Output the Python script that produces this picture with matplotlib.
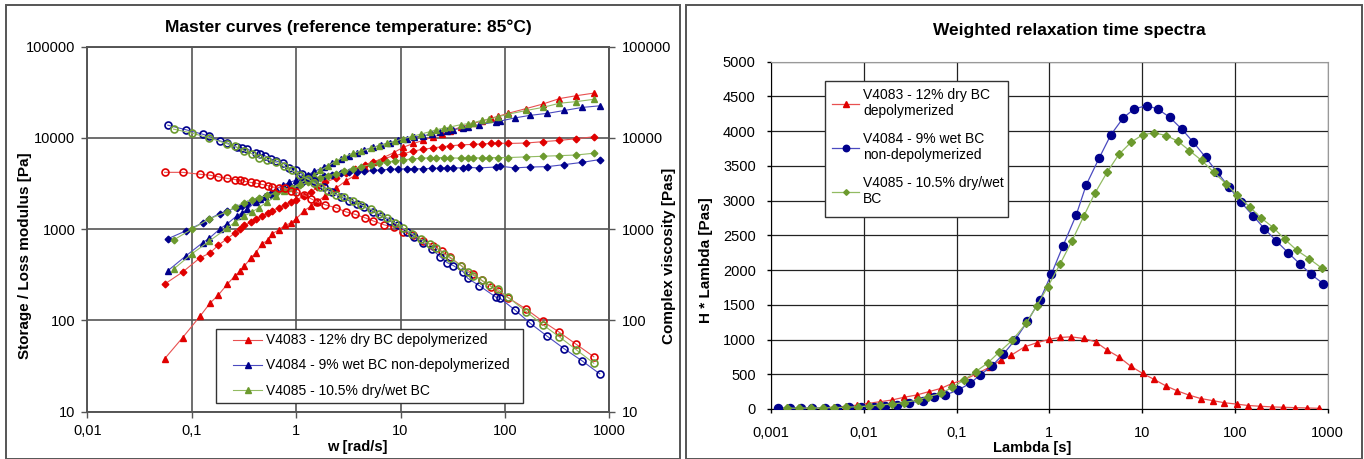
import matplotlib
matplotlib.use('Agg')
import matplotlib.pyplot as plt
from matplotlib.patches import Rectangle
from matplotlib.ticker import NullLocator

plt.rcParams['font.family'] = ['Liberation Sans', 'DejaVu Sans']

# ---------------- master curves (left panel) ----------------
# V4083 - 12% dry BC depolymerized
w_83 = [0.055, 0.082, 0.12, 0.15, 0.18, 0.22, 0.26, 0.29, 0.32, 0.37,
        0.41, 0.47, 0.54, 0.59, 0.68, 0.78, 0.89, 1.0, 1.2, 1.4,
        1.6, 1.9, 2.4, 3.0, 3.7, 4.6, 5.5, 6.9, 8.6, 10.6,
        13.3, 16.5, 20.6, 25, 30, 38, 50, 60, 74, 85,
        107, 160, 230, 333, 480, 710]
gp_83 = [38, 65, 111, 155, 190, 251, 309, 345, 396, 485,
         550, 690, 760, 890, 980, 1100, 1170, 1300, 1600, 1800,
         2000, 2340, 2800, 3400, 3900, 4700, 5400, 6100, 6900, 7900,
         8700, 9400, 10300, 11000, 12000, 13200, 14500, 15300, 16500, 17200,
         18600, 21000, 23500, 27000, 29000, 31000]
gpp_83 = [250, 340, 485, 550, 670, 790, 910, 1000, 1100, 1200,
          1300, 1400, 1500, 1600, 1720, 1850, 2000, 2100, 2300, 2550,
          2900, 3250, 3650, 4100, 4600, 5100, 5500, 5900, 6400, 6700,
          7200, 7500, 7800, 8000, 8200, 8400, 8500, 8600, 8700, 8800,
          8700, 8800, 9100, 9400, 9800, 10300]
eta_83 = [4200, 4200, 4000, 3900, 3750, 3600, 3500, 3450, 3350, 3250,
          3200, 3100, 3000, 2900, 2850, 2800, 2650, 2550, 2350, 2150,
          1980, 1850, 1720, 1550, 1450, 1330, 1230, 1120, 1050, 940,
          860, 750, 660, 570, 490, 400, 320, 275, 235, 210,
          178, 133, 98, 74, 55, 40]

# V4084 - 9% wet BC non-depolymerized
w_84 = [0.059, 0.088, 0.127, 0.148, 0.185, 0.22, 0.27, 0.3, 0.34, 0.41,
        0.45, 0.5, 0.57, 0.64, 0.75, 0.86, 1.0, 1.15, 1.3, 1.5,
        1.85, 2.2, 2.7, 3.2, 3.8, 4.5, 5.5, 6.5, 8, 9.5,
        11.5, 13.5, 16.6, 20, 24, 28, 32, 40, 44, 57,
        82, 90, 125, 175, 255, 370, 550, 810]
gp_84 = [350, 510, 710, 800, 1000, 1150, 1400, 1500, 1650, 2000,
         2150, 2300, 2550, 2750, 3050, 3250, 3450, 3700, 3950, 4300,
         4800, 5300, 5900, 6400, 6900, 7400, 7900, 8400, 8900, 9400,
         9800, 10200, 10600, 11000, 11500, 12000, 12300, 12900, 13100, 14000,
         15000, 15300, 16600, 17700, 18600, 20000, 21600, 22500]
gpp_84 = [785, 960, 1170, 1300, 1480, 1600, 1720, 1800, 1900, 2050,
          2150, 2250, 2400, 2550, 2700, 2850, 3000, 3200, 3400, 3600,
          3850, 3950, 4100, 4200, 4250, 4300, 4400, 4450, 4550, 4550,
          4600, 4600, 4600, 4650, 4650, 4700, 4700, 4700, 4750, 4700,
          4800, 4900, 4700, 4800, 4850, 5100, 5400, 5800]
eta_84 = [13800, 12300, 11000, 10400, 9300, 8800, 7900, 7800, 7600, 6800,
          6600, 6400, 5900, 5600, 5300, 4700, 4400, 4000, 3700, 3400,
          2900, 2550, 2250, 2050, 1900, 1750, 1550, 1400, 1220, 1100,
          930, 820, 700, 600, 500, 430, 400, 340, 290, 240,
          180, 175, 130, 93, 67, 49, 36, 26]

# V4085 - 10.5% dry/wet BC
w_85 = [0.067, 0.1, 0.148, 0.22, 0.26, 0.32, 0.38, 0.44, 0.53, 0.64,
        0.76, 0.91, 1.1, 1.3, 1.5, 1.7, 2.0, 2.4, 2.9, 3.5,
        4.2, 5.2, 6.2, 7.4, 8.8, 10.6, 13, 15.6, 19, 22,
        26, 30, 38, 44, 50, 60, 70, 85, 107, 160,
        230, 333, 480, 710]
gp_85 = [365, 535, 745, 1030, 1200, 1400, 1550, 1720, 2000, 2300,
         2600, 2850, 3200, 3600, 3950, 4400, 4900, 5600, 6200, 6800,
         7200, 7700, 8200, 8700, 9200, 9800, 10400, 11000, 11700, 12300,
         12800, 13200, 14000, 14300, 14700, 15600, 16000, 17000, 18200, 20000,
         21600, 24000, 25000, 26500]
gpp_85 = [760, 1000, 1300, 1560, 1750, 1950, 2100, 2200, 2350, 2500,
          2700, 2850, 3050, 3250, 3450, 3650, 3850, 4000, 4300, 4600,
          4850, 5100, 5300, 5450, 5600, 5750, 5900, 6000, 6050, 6100,
          6100, 6050, 6000, 6050, 6100, 6000, 6100, 6100, 6100, 6200,
          6300, 6400, 6500, 6800]
eta_85 = [12500, 11300, 10000, 8600, 8100, 7200, 6700, 6100, 5800, 5400,
          4900, 4400, 3900, 3550, 3200, 2900, 2650, 2400, 2250, 2050,
          1850, 1650, 1480, 1340, 1170, 1030, 880, 780, 680, 620,
          540, 480, 400, 340, 310, 275, 245, 220, 180, 125,
          90, 66, 48, 34]

# ---------------- relaxation spectra (right panel) ----------------
lam_83 = [0.0012, 0.0016, 0.0021, 0.0028, 0.0036, 0.0048, 0.0064, 0.0084, 0.011, 0.015,
          0.02, 0.027, 0.037, 0.05, 0.068, 0.09, 0.124, 0.168, 0.225, 0.3,
          0.39, 0.54, 0.73, 0.98, 1.3, 1.71, 2.35, 3.15, 4.2, 5.6,
          7.5, 10.1, 13.4, 18.2, 24, 32, 43, 58, 77, 105,
          140, 185, 250, 330, 440, 600, 800]
h_83 = [8, 10, 12, 15, 20, 27, 38, 55, 80, 105,
        129, 168, 201, 249, 297, 369, 427, 513, 599, 704,
        776, 895, 953, 1001, 1030, 1039, 1015, 967, 848, 751,
        618, 513, 427, 330, 260, 200, 150, 120, 90, 70,
        50, 40, 30, 25, 20, 15, 10]

lam_84 = [0.0012, 0.0016, 0.0021, 0.0028, 0.0038, 0.0051, 0.0069, 0.0093, 0.013, 0.017,
          0.023, 0.031, 0.043, 0.057, 0.075, 0.103, 0.14, 0.18, 0.24, 0.32,
          0.43, 0.58, 0.79, 1.05, 1.4, 1.94, 2.5, 3.45, 4.6, 6.25,
          8.2, 11.2, 14.7, 19.8, 26.6, 35.6, 48.2, 64.3, 86.5, 116,
          158, 208, 280, 374, 497, 660, 890]
h_84 = [12, 13, 14, 15, 17, 19, 22, 26, 30, 43,
        57, 90, 115, 170, 200, 270, 370, 490, 620, 790,
        1000, 1260, 1566, 1940, 2346, 2787, 3228, 3616, 3947, 4191,
        4320, 4368, 4320, 4200, 4033, 3841, 3625, 3410, 3194, 2978,
        2777, 2596, 2418, 2251, 2093, 1940, 1806]

lam_85 = [0.0015, 0.002, 0.0027, 0.0036, 0.0048, 0.0064, 0.0086, 0.0115, 0.015, 0.020,
          0.027, 0.038, 0.049, 0.068, 0.09, 0.12, 0.16, 0.218, 0.29, 0.4,
          0.56, 0.73, 0.96, 1.3, 1.75, 2.35, 3.1, 4.2, 5.6, 7.6,
          10.1, 13.4, 18.2, 24.3, 32.3, 43.8, 59, 80, 106, 145,
          192, 260, 345, 465, 630, 860]
h_85 = [12, 12, 15, 15, 20, 25, 33, 43, 57, 72,
        90, 130, 177, 225, 312, 417, 536, 665, 823, 991,
        1231, 1484, 1757, 2083, 2418, 2777, 3108, 3410, 3664, 3841,
        3947, 3976, 3937, 3855, 3721, 3578, 3410, 3243, 3075, 2907,
        2749, 2611, 2443, 2285, 2165, 2030]

labels_left = ['V4083 - 12% dry BC depolymerized',
               'V4084 - 9% wet BC non-depolymerized',
               'V4085 - 10.5% dry/wet BC']
labels_right = ['V4083 - 12% dry BC\ndepolymerized',
                'V4084 - 9% wet BC\nnon-depolymerized',
                'V4085 - 10.5% dry/wet\nBC']

mk_col = ['#e00000', '#00008c', '#6c9a2e']
ln_col = ['#e85050', '#4a4ac0', '#92bb62']

fig = plt.figure(figsize=(13.64, 4.59), dpi=100)

# panel frames
fig.patches.append(Rectangle((6 / 1364, 0.0), 674 / 1364, 1 - 5 / 459, transform=fig.transFigure,
                             fill=False, edgecolor='#555555', lw=1.4))
fig.patches.append(Rectangle((686 / 1364, 0.0), 676 / 1364, 1 - 5 / 459, transform=fig.transFigure,
                             fill=False, edgecolor='#555555', lw=1.4))

# ---------------- left panel ----------------
ax1 = fig.add_axes([87.3 / 1364, 1 - 411.7 / 459, 522 / 1364, 365 / 459])
ax1.set_xscale('log')
ax1.set_yscale('log')
ax1.set_xlim(0.01, 1000)
ax1.set_ylim(10, 100000)
ax1b = ax1.twinx()
ax1b.set_yscale('log')
ax1b.set_ylim(10, 100000)

series = [(w_83, gp_83, gpp_83, eta_83), (w_84, gp_84, gpp_84, eta_84), (w_85, gp_85, gpp_85, eta_85)]
handles = []
for i, (w, gp, gpp, eta) in enumerate(series):
    h, = ax1.plot(w, gp, '-', color=ln_col[i], lw=0.8, marker='^', ms=4.8,
                  mfc=mk_col[i], mec=mk_col[i], zorder=3)
    ax1.plot(w, gpp, '-', color=ln_col[i], lw=0.8, marker='D', ms=3.4,
             mfc=mk_col[i], mec=mk_col[i], zorder=3)
    ax1b.plot(w, eta, '-', color=ln_col[i], lw=0.8, marker='o', ms=5.0,
              mfc='none', mec=mk_col[i], mew=1.2, zorder=3)
    handles.append(h)

xt = [0.01, 0.1, 1, 10, 100, 1000]
xtl = ['0,01', '0,1', '1', '10', '100', '1000']
yt = [10, 100, 1000, 10000, 100000]
ytl = ['10', '100', '1000', '10000', '100000']
ax1.set_xticks(xt)
ax1.set_xticklabels(xtl)
ax1.set_yticks(yt)
ax1.set_yticklabels(ytl)
ax1b.set_yticks(yt)
ax1b.set_yticklabels(ytl)
for a in (ax1, ax1b):
    a.xaxis.set_minor_locator(NullLocator())
    a.yaxis.set_minor_locator(NullLocator())
    for s in a.spines.values():
        s.set_color('#555555')
        s.set_linewidth(1.2)
ax1.tick_params(axis='both', direction='out', length=4, width=1, color='#555555',
                labelsize=10.5, pad=4.5)
ax1b.tick_params(axis='y', direction='out', length=4, width=1, color='#555555',
                 labelsize=10.5, pad=5)
ax1.grid(True, which='major', color='#555555', lw=1.2)
ax1.set_axisbelow(True)

ax1b.add_patch(Rectangle((0.2466, 0.0247), 0.5884, 0.2019, transform=ax1b.transAxes,
                         facecolor='white', edgecolor='#333333', lw=1.0, zorder=8))
leg1 = ax1b.legend(handles, labels_left, loc='center left', bbox_to_anchor=(0.279, 0.1266),
                   frameon=False, fontsize=10, borderpad=0, borderaxespad=0,
                   labelspacing=0.8, handlelength=2.1, handletextpad=0.25)
leg1.set_zorder(9)

fig.text(348.5 / 1364, 1 - 27 / 459, 'Master curves (reference temperature: 85°C)',
         ha='center', va='center', fontsize=12.5, fontweight='bold')
fig.text(357 / 1364, 1 - 447 / 459, 'w [rad/s]', ha='center', va='center',
         fontsize=10.5, fontweight='bold')
fig.text(25 / 1364, 1 - 256 / 459, 'Storage / Loss modulus [Pa]', ha='center', va='center',
         rotation=90, fontsize=11, fontweight='bold')
fig.text(668.5 / 1364, 1 - 256 / 459, 'Complex viscosity [Pas]', ha='center', va='center',
         rotation=90, fontsize=11, fontweight='bold')

# ---------------- right panel ----------------
ax2 = fig.add_axes([771 / 1364, 1 - 409 / 459, 556.7 / 1364, 347.3 / 459])
ax2.set_xscale('log')
ax2.set_xlim(0.001, 1000)
ax2.set_ylim(0, 5000)

h2 = []
spec = [(lam_83, h_83, '^', 5.0), (lam_84, h_84, 'o', 5.8), (lam_85, h_85, 'D', 3.6)]
for i, (lam, hv, m, ms) in enumerate(spec):
    h, = ax2.plot(lam, hv, '-', color=ln_col[i], lw=0.9, marker=m, ms=ms,
                  mfc=mk_col[i], mec=mk_col[i], zorder=3)
    h2.append(h)

ax2.set_xticks([0.001, 0.01, 0.1, 1, 10, 100, 1000])
ax2.set_xticklabels(['0,001', '0,01', '0,1', '1', '10', '100', '1000'])
ax2.set_yticks(list(range(0, 5001, 500)))
ax2.xaxis.set_minor_locator(NullLocator())
ax2.tick_params(axis='both', direction='out', length=3, width=1, labelsize=10.5)
ax2.tick_params(axis='y', pad=8)
ax2.tick_params(axis='x', pad=9)
ax2.grid(True, color='#222222', lw=0.9)
ax2.set_axisbelow(True)
ax2.spines['top'].set_color('#999999')
ax2.spines['right'].set_color('#999999')

ax2.add_patch(Rectangle((0.097, 0.552), 0.3293, 0.392, transform=ax2.transAxes,
                        facecolor='white', edgecolor='#333333', lw=1.0, zorder=8))
leg2 = ax2.legend(h2, labels_right, loc='upper left', bbox_to_anchor=(0.109, 0.924),
                  frameon=False, fontsize=10, borderpad=0, borderaxespad=0,
                  labelspacing=1.0, handlelength=2.0, handletextpad=0.25, markerscale=0.8)
leg2.set_zorder(9)

fig.text(1069 / 1364, 1 - 30 / 459, 'Weighted relaxation time spectra',
         ha='center', va='center', fontsize=12.5, fontweight='bold')
fig.text(1032 / 1364, 1 - 448 / 459, 'Lambda [s]', ha='center', va='center',
         fontsize=10.5, fontweight='bold')
fig.text(706 / 1364, 1 - 260 / 459, 'H * Lambda [Pas]', ha='center', va='center',
         rotation=90, fontsize=11, fontweight='bold')

fig.savefig('out.png', dpi=100)
